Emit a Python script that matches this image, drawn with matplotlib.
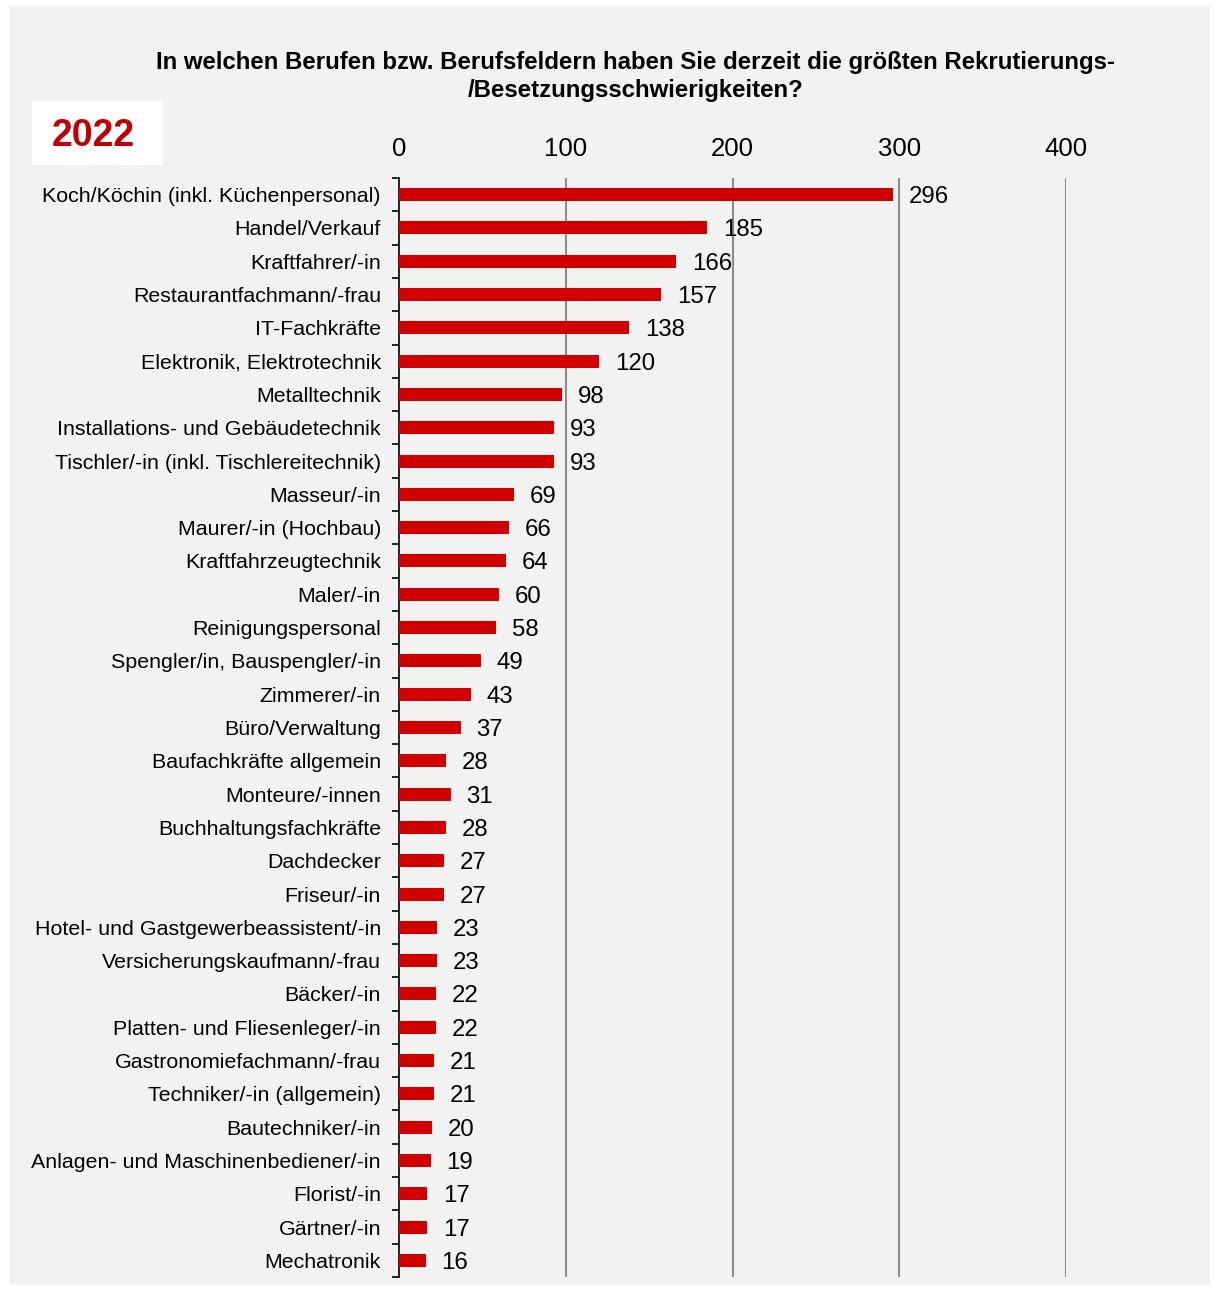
import numpy as np
import matplotlib
matplotlib.use("Agg")
import matplotlib.pyplot as plt
from matplotlib.patches import Rectangle

plt.rcParams['font.family'] = ['Liberation Sans', 'DejaVu Sans']

categories = [
    "Koch/Köchin (inkl. Küchenpersonal)", "Handel/Verkauf", "Kraftfahrer/-in",
    "Restaurantfachmann/-frau", "IT-Fachkräfte", "Elektronik, Elektrotechnik",
    "Metalltechnik", "Installations- und Gebäudetechnik",
    "Tischler/-in (inkl. Tischlereitechnik)", "Masseur/-in", "Maurer/-in (Hochbau)",
    "Kraftfahrzeugtechnik", "Maler/-in", "Reinigungspersonal",
    "Spengler/in, Bauspengler/-in", "Zimmerer/-in", "Büro/Verwaltung",
    "Baufachkräfte allgemein", "Monteure/-innen", "Buchhaltungsfachkräfte",
    "Dachdecker", "Friseur/-in", "Hotel- und Gastgewerbeassistent/-in",
    "Versicherungskaufmann/-frau", "Bäcker/-in", "Platten- und Fliesenleger/-in",
    "Gastronomiefachmann/-frau", "Techniker/-in (allgemein)", "Bautechniker/-in",
    "Anlagen- und Maschinenbediener/-in", "Florist/-in", "Gärtner/-in", "Mechatronik",
]
values = [296, 185, 166, 157, 138, 120, 98, 93, 93, 69, 66, 64, 60, 58, 49, 43, 37,
          28, 31, 28, 27, 27, 23, 23, 22, 22, 21, 21, 20, 19, 17, 17, 16]
xticks = [0, 100, 200, 300, 400]

W, H = 1214, 1289
fig = plt.figure(figsize=(W / 100, H / 100), dpi=100, facecolor='white')

# gray panel behind everything
fig.patches.append(Rectangle((9 / W, 1 - 1285 / H), (1210 - 9) / W, (1285 - 6) / H,
                             transform=fig.transFigure, facecolor='#f2f2f2',
                             edgecolor='none', zorder=-2))

ax = fig.add_axes([399 / W, 1 - 1277 / H, (1066 - 399) / W, (1277 - 178) / H])
ax.set_zorder(2)
ax.set_facecolor('none')

y = np.arange(len(categories))
ax.barh(y, values, height=0.39, color='#d00000', zorder=3)
for yi, v in zip(y, values):
    ax.text(v + 9.5, yi, str(v), va='center_baseline', ha='left', fontsize=17.3, zorder=4)

ax.set_xlim(0, 400)
ax.set_ylim(len(categories) - 0.5, -0.5)
ax.set_xticks(xticks)
ax.xaxis.tick_top()
ax.tick_params(axis='x', length=0, labelsize=18.5, pad=12)
ax.set_yticks(y)
ax.set_yticklabels(categories, fontsize=15.4)
ax.tick_params(axis='y', which='major', length=0, pad=13)
ax.set_yticks(np.arange(-0.5, len(categories)), minor=True)
ax.tick_params(axis='y', which='minor', length=5, width=1.2, color='black')
for v in xticks[1:]:
    ax.axvline(v, color='#8c8c8c', lw=1.5, zorder=1)
for s in ['top', 'right', 'bottom']:
    ax.spines[s].set_visible(False)
ax.spines['left'].set_linewidth(1.2)

fig.text(636 / W, 1 - 62 / H,
         "In welchen Berufen bzw. Berufsfeldern haben Sie derzeit die größten Rekrutierungs-",
         ha='center', va='center', fontsize=17.3, fontweight='bold')
fig.text(636 / W, 1 - 90 / H, "/Besetzungsschwierigkeiten?",
         ha='center', va='center', fontsize=17.3, fontweight='bold')

fig.patches.append(Rectangle((32 / W, 1 - 165 / H), (163 - 32) / W, (165 - 101) / H,
                             transform=fig.transFigure, facecolor='white',
                             edgecolor='none', zorder=-1))
fig.text(93 / W, 1 - 136 / H, "2022", ha='center', va='center', fontsize=27,
         fontweight='bold', color='#c00000')

fig.savefig("out.png", dpi=100, facecolor='white')
